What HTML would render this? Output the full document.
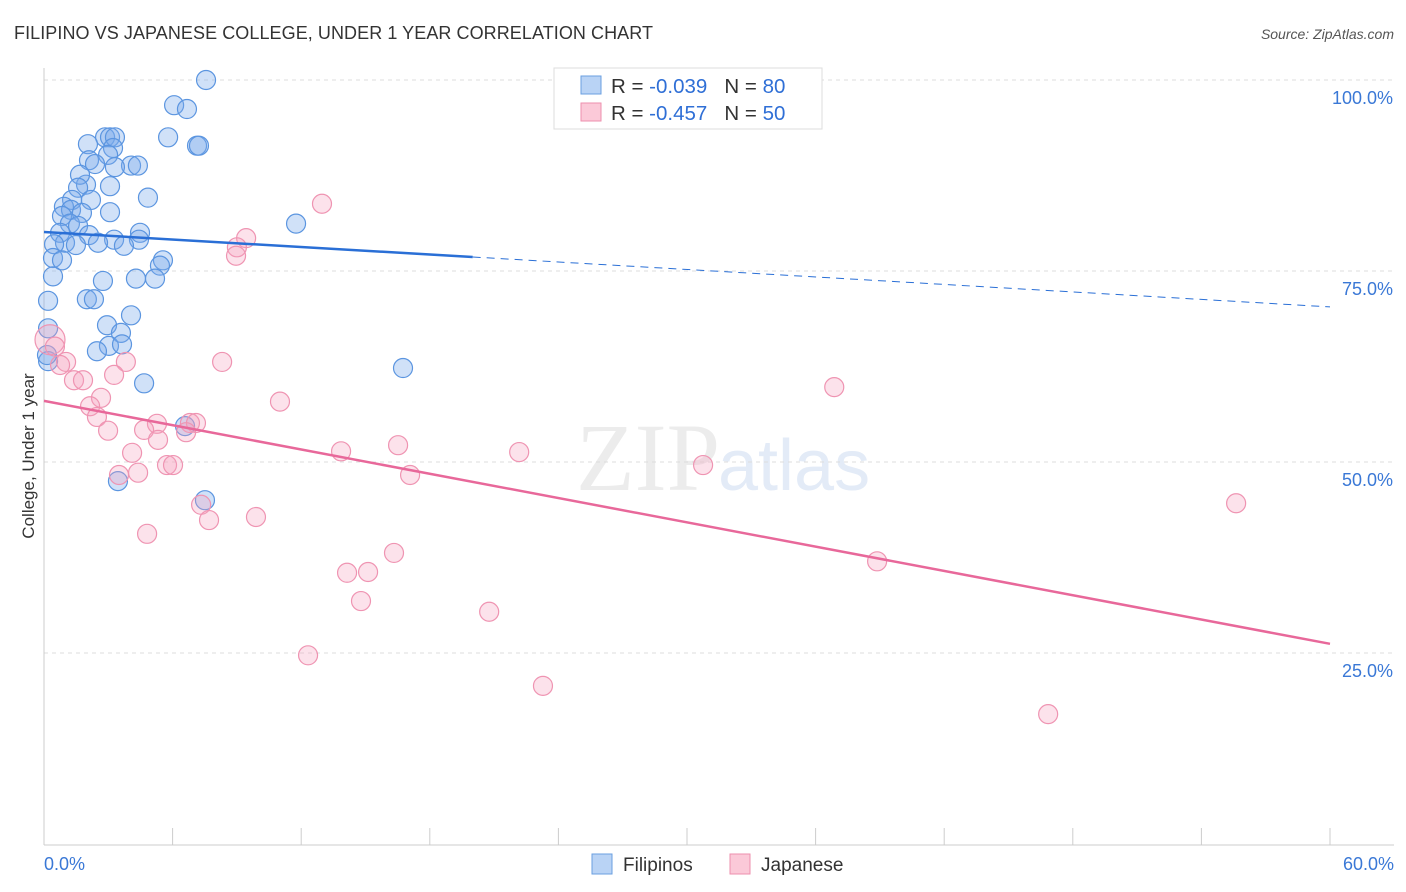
<!DOCTYPE html>
<html><head><meta charset="utf-8"><style>
body{margin:0;background:#fff;font-family:"Liberation Sans",sans-serif;}
svg{display:block}
</style></head><body>
<svg id="chart" width="1406" height="892">
<text x="14" y="39" font-size="18" fill="#333" textLength="639">FILIPINO VS JAPANESE COLLEGE, UNDER 1 YEAR CORRELATION CHART</text>
<text x="1394" y="39" font-size="14" fill="#555" font-style="italic" text-anchor="end">Source: ZipAtlas.com</text>
<text x="720" y="490" font-size="96" fill="#ececec" text-anchor="end" font-family="Liberation Serif">ZIP</text>
<text x="718" y="490" font-size="72" fill="#e3ebf7">atlas</text>
<g id="grid"></g><g id="axes"></g><g id="pts"></g><g id="lines"></g>
<text transform="translate(34,456) rotate(-90)" font-size="17" fill="#333" text-anchor="middle">College, Under 1 year</text>
<g>
<rect x="554" y="68" width="268" height="61" fill="#fff" stroke="#ddd"/>
<rect x="581" y="76" width="20" height="18" fill="#b9d3f5" stroke="#6a9fe0"/>
<rect x="581" y="103" width="20" height="18" fill="#fbc9d8" stroke="#ee8fae"/>
<text x="611" y="93" font-size="20.5" fill="#333">R = <tspan fill="#2f6fd6">-0.039</tspan>&#160;&#160;&#160;N = <tspan fill="#2f6fd6">80</tspan></text>
<text x="611" y="120" font-size="20.5" fill="#333">R = <tspan fill="#2f6fd6">-0.457</tspan>&#160;&#160;&#160;N = <tspan fill="#2f6fd6">50</tspan></text>
</g>
<g>
<rect x="592" y="854" width="20" height="20" fill="#b9d3f5" stroke="#6a9fe0"/>
<text x="623" y="871" font-size="19" fill="#333">Filipinos</text>
<rect x="730" y="854" width="20" height="20" fill="#fbc9d8" stroke="#ee8fae"/>
<text x="761" y="871" font-size="19" fill="#333">Japanese</text>
</g>
</svg>
<script>
const yTicks=[25,50,75,100];
const yTickLabels=["25.0%","50.0%","75.0%","100.0%"];
const xTicks=[0,6,12,18,24,30,36,42,48,54,60];
const xEndLabels=["0.0%","60.0%"];
const filX=[7.56,6.07,6.67,5.79,7.14,7.23,2.85,3.08,3.31,2.05,3.22,2.99,2.1,2.38,4.06,4.38,3.31,1.96,3.08,1.68,1.59,4.85,1.31,2.19,0.93,1.26,1.77,3.08,0.84,11.76,1.21,1.59,0.75,2.1,4.48,3.27,4.43,0.98,0.47,1.49,2.52,3.73,0.42,0.84,5.55,5.41,0.42,2.75,4.29,5.18,0.19,2.0,2.33,4.06,2.94,0.19,3.59,3.03,3.64,2.47,0.19,16.75,4.67,6.58,7.51,3.45,0.14];
const filY=[100,96.7,96.2,92.5,91.4,91.4,92.5,92.5,92.5,91.6,91.1,90.2,89.5,89.0,88.8,88.8,88.6,86.3,86.1,87.6,85.9,84.6,84.3,84.3,83.4,83.0,82.6,82.7,82.2,81.2,81.2,80.9,80.0,79.7,80.0,79.1,79.1,78.7,78.5,78.4,78.7,78.3,76.7,76.4,76.4,75.7,74.3,73.7,74.0,74.0,71.1,71.3,71.3,69.2,67.9,67.5,66.9,65.2,65.4,64.5,63.2,62.3,60.3,54.7,45.0,47.5,64.0];
const japX=[12.97,9.43,9.0,8.96,0.28,0.51,1.03,0.75,3.82,8.31,3.27,1.4,1.82,36.87,2.66,2.15,11.01,2.47,5.27,2.99,4.67,6.81,7.09,6.63,5.32,13.86,16.52,22.17,4.11,5.74,6.02,30.75,17.08,3.5,4.39,7.33,55.62,7.7,9.89,4.81,38.87,16.33,14.14,15.12,14.79,20.77,12.32,23.28,46.85];
const japY=[83.8,79.3,78.1,77.0,66.0,65.1,63.1,62.7,63.1,63.1,61.4,60.7,60.7,59.8,58.4,57.3,57.9,55.9,55.0,54.1,54.2,55.1,55.1,53.9,52.9,51.4,52.2,51.3,51.2,49.6,49.6,49.6,48.3,48.3,48.6,44.4,44.6,42.4,42.8,40.6,37.0,38.1,35.5,35.6,31.8,30.4,24.7,20.7,17.0];
const filTrend=[80.1,70.3];
const japTrend=[58.0,26.2];
const NS="http://www.w3.org/2000/svg";
const X=v=>44+v/60*1286, Y=v=>844-v/100*764;
function mk(p,t,a){const e=document.createElementNS(NS,t);for(const k in a)e.setAttribute(k,a[k]);p.appendChild(e);return e;}
const grid=document.getElementById('grid'),axes=document.getElementById('axes'),pts=document.getElementById('pts'),lines=document.getElementById('lines');
yTicks.forEach((t,i)=>{
 const l=mk(grid,'line',{x1:44,x2:1394,y1:Y(t),y2:Y(t),stroke:'#ddd','stroke-dasharray':'4,4'});
 
 
 const tx=mk(grid,'text',{x:1393,y:Y(t)+24,'font-size':18,fill:'#3a78d6','text-anchor':'end'});
 tx.textContent=yTickLabels[i];
 
 
});
const ax=mk(axes,'line',{x1:44,x2:1394,y1:845,y2:845,stroke:'#ccc'});


const ay=mk(axes,'line',{x1:44,x2:44,y1:68,y2:845,stroke:'#ccc'});


xTicks.forEach(t=>{
 const l=mk(axes,'line',{x1:X(t),x2:X(t),y1:828,y2:845,stroke:'#ccc'});
 
 
});
[[0,'start',44],[60,'end',1394]].forEach((d,i)=>{
 const tx=mk(axes,'text',{x:d[2],y:870,'font-size':18,fill:'#3a78d6','text-anchor':d[1]});
 tx.textContent=xEndLabels[i];
 
 
});
filX.forEach((v,i)=>{
 const c=mk(pts,'circle',{cx:X(v),cy:Y(filY[i]),r:9.5,fill:'rgba(120,170,235,0.35)',stroke:'#5b95e0','stroke-width':1.2});
 
 
});
japX.forEach((v,i)=>{
 const c=mk(pts,'circle',{cx:X(v),cy:Y(japY[i]),r:i==4?15:9.5,fill:'rgba(245,160,190,0.3)',stroke:'#ef94b2','stroke-width':1.2});
 
 
});
const fy=x=>filTrend[0]+(filTrend[1]-filTrend[0])*x/60;
const b1=mk(lines,'line',{x1:X(0),y1:Y(fy(0)),x2:X(20),y2:Y(fy(20)),stroke:'#2a6fd6','stroke-width':2.5});


const b2=mk(lines,'line',{x1:X(20),y1:Y(fy(20)),x2:X(60),y2:Y(fy(60)),stroke:'#2a6fd6','stroke-width':1,'stroke-dasharray':'8,6'});


const p1=mk(lines,'line',{x1:X(0),y1:Y(japTrend[0]),x2:X(60),y2:Y(japTrend[1]),stroke:'#e8689a','stroke-width':2.5});


</script>
</body></html>
